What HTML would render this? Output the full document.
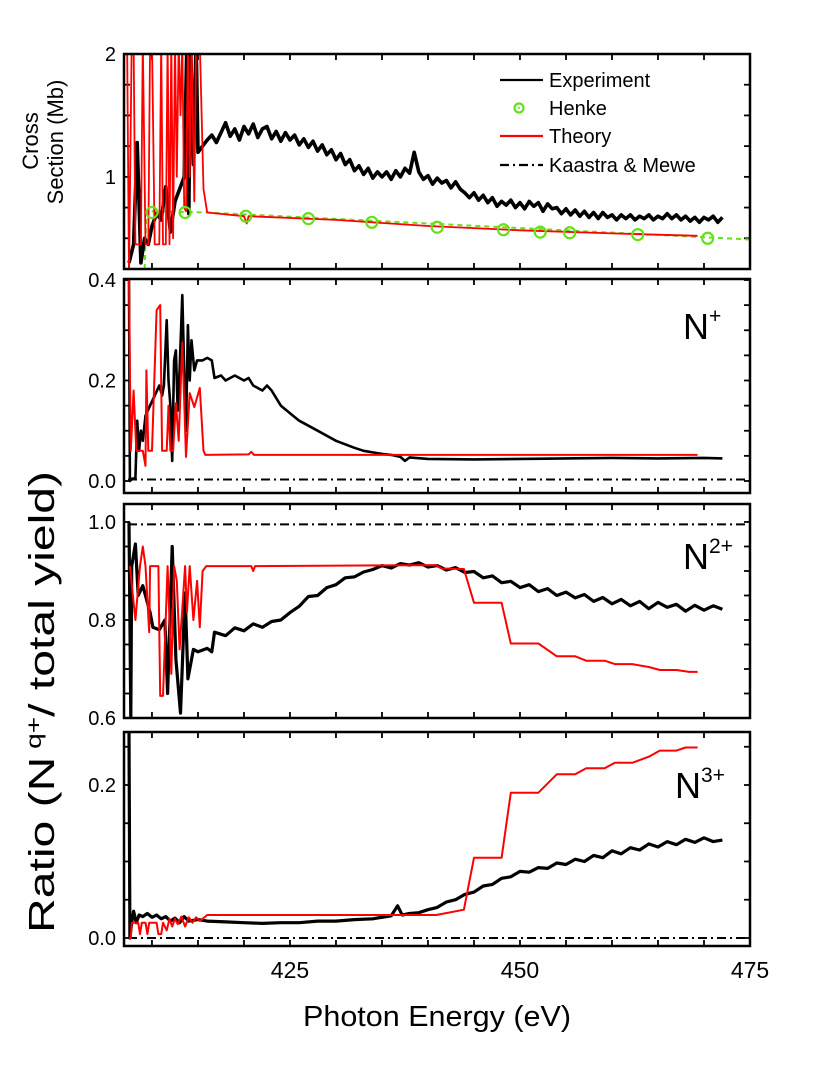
<!DOCTYPE html>
<html><head><meta charset="utf-8">
<style>
html,body{margin:0;padding:0;background:#fff;}
svg{display:block;font-family:"Liberation Sans",Arial,sans-serif;}
</style></head>
<body>
<svg id="chart" width="830" height="1075" viewBox="0 0 830 1075" xmlns="http://www.w3.org/2000/svg">
<defs>
<clipPath id="c1"><rect x="124" y="54" width="626" height="215"/></clipPath>
<clipPath id="c2"><rect x="124" y="279" width="626" height="214"/></clipPath>
<clipPath id="c3"><rect x="124" y="504" width="626" height="214"/></clipPath>
<clipPath id="c4"><rect x="124" y="732" width="626" height="214"/></clipPath>
</defs>
<g id="layer"></g>
<text transform="translate(38,141) rotate(-90)" text-anchor="middle" font-size="22">Cross</text>
<text transform="translate(63,142) rotate(-90)" text-anchor="middle" font-size="22">Section (Mb)</text>
<text transform="translate(54,702) rotate(-90)" text-anchor="middle" font-size="36" textLength="462" lengthAdjust="spacingAndGlyphs">Ratio (N<tspan dy="-13" font-size="21"> q+</tspan><tspan dy="13">/ total yield)</tspan></text>
<text x="437" y="1026" text-anchor="middle" font-size="29" textLength="268" lengthAdjust="spacingAndGlyphs">Photon Energy (eV)</text>
<text x="683" y="339" font-size="36">N<tspan dy="-16" font-size="21">+</tspan></text>
<text x="683" y="569" font-size="36">N<tspan dy="-16" font-size="21">2+</tspan></text>
<text x="675" y="798" font-size="36">N<tspan dy="-16" font-size="21">3+</tspan></text>
<g>
<line x1="500" y1="80" x2="543" y2="80" stroke="#000" stroke-width="2.2"/>
<text x="549" y="87" font-size="20">Experiment</text>
<circle cx="519" cy="108" r="4.5" fill="none" stroke="#66e01a" stroke-width="2.2"/>
<circle cx="519" cy="108" r="1" fill="#66e01a"/>
<text x="549" y="115" font-size="20">Henke</text>
<line x1="500" y1="136" x2="543" y2="136" stroke="#f00" stroke-width="2.2"/>
<text x="549" y="143" font-size="20">Theory</text>
<line x1="500" y1="165" x2="543" y2="165" stroke="#000" stroke-width="2.2" stroke-dasharray="9,4,2,4"/>
<text x="549" y="172" font-size="20">Kaastra &amp; Mewe</text>
</g>
</svg>
<script>
// ---------- data ----------
const xTicksMajor = [425, 450, 475];
const p1Ticks = [1, 2];
const p2Ticks = [0.0, 0.2, 0.4];
const p3Ticks = [0.6, 0.8, 1.0];
const p4Ticks = [0.0, 0.2];
const p1TickLabels = ["1", "2"];
const p2TickLabels = ["0.0", "0.2", "0.4"];
const p3TickLabels = ["0.6", "0.8", "1.0"];
const p4TickLabels = ["0.0", "0.2"];

// Panel 1: cross section
const p1ExpE = [407.5,408,408.4,408.8,409.2,409.6,410,410.5,411,411.5,412,412.5,413,413.5,413.8,414,414.2,414.5,414.8,415,415.5,416,416.5,417,417.5,418,418.5,419,419.5,420,420.5,421,421.5,422,422.5,423,423.5,424,424.5,425,425.5,426,426.5,427,427.5,428,428.5,429,429.5,430,430.5,431,431.5,432,432.5,433,433.5,434,434.5,435,435.5,436,436.5,437,437.5,438,438.5,439,439.5,440,440.5,441,441.5,442,442.5,443,443.5,444,444.5,445,445.5,446,446.5,447,447.5,448,448.5,449,449.5,450,450.5,451,451.5,452,452.5,453,453.5,454,454.5,455,455.5,456,456.5,457,457.5,458,458.5,459,459.5,460,460.5,461,461.5,462,462.5,463,463.5,464,464.5,465,465.5,466,466.5,467,467.5,468,468.5,469,469.5,470,470.5,471,471.5,472];
const p1ExpV = [0.3,0.45,1.28,0.3,0.5,0.45,0.6,0.7,0.65,0.92,0.55,0.8,0.9,1.0,2.1,0.7,2.1,1.1,2.1,1.2,1.25,1.3,1.34,1.28,1.36,1.44,1.33,1.39,1.30,1.41,1.35,1.43,1.32,1.39,1.41,1.31,1.37,1.29,1.36,1.30,1.34,1.26,1.31,1.24,1.29,1.21,1.26,1.18,1.22,1.14,1.19,1.10,1.14,1.05,1.09,1.02,1.07,0.99,1.04,1.00,1.04,0.98,1.05,1.00,1.07,1.03,1.20,1.04,0.98,1.01,0.94,0.99,0.95,0.97,0.91,0.96,0.90,0.87,0.83,0.87,0.81,0.85,0.79,0.83,0.76,0.80,0.77,0.81,0.75,0.79,0.74,0.80,0.76,0.79,0.72,0.78,0.74,0.75,0.70,0.74,0.69,0.73,0.68,0.72,0.67,0.71,0.66,0.71,0.67,0.69,0.65,0.69,0.66,0.69,0.65,0.68,0.66,0.69,0.65,0.68,0.66,0.70,0.66,0.69,0.65,0.68,0.64,0.67,0.63,0.67,0.65,0.68,0.63,0.67,0.65,0.69];
const p1ThE = [407.3,407.5,407.8,408.0,408.2,408.8,409.0,409.3,409.6,409.8,410.0,410.3,410.8,411.0,411.2,411.5,411.7,411.9,412.1,412.3,412.5,412.7,412.9,413.1,413.3,413.5,413.7,413.9,414.1,414.3,414.6,414.8,415.2,415.6,416.0,420,420.3,420.5,430,440,450,460,469.3];
const p1ThV = [2.1,0.2,2.1,2.1,0.45,0.45,2.1,0.45,0.45,2.1,2.1,0.45,0.45,2.1,0.45,0.45,2.1,0.45,2.1,0.5,2.1,1.0,2.1,1.5,2.1,0.75,0.72,2.1,1.0,2.1,0.8,2.1,2.1,0.9,0.71,0.68,0.62,0.68,0.65,0.6,0.565,0.54,0.52];
const henkeE = [410,413.6,420.2,427,433.9,441,448.2,452.2,455.4,462.8,470.4];
const henkeV = [0.71,0.71,0.68,0.66,0.63,0.59,0.57,0.55,0.545,0.53,0.50];
const henkeLineE = [409.2,409.4,410,416,475];
const henkeLineV = [0.25,0.72,0.72,0.71,0.49];

// Panel 2: N+
const p2ExpE = [407.5,407.6,407.9,408.2,408.4,408.6,408.8,409.0,409.3,409.8,410.3,410.8,411.1,411.3,411.6,411.8,412.0,412.2,412.4,412.6,412.8,413.0,413.3,413.5,413.7,413.9,414.1,414.3,414.6,414.9,415.5,416,416.5,416.8,417.5,418,419,420,420.5,421,422,422.5,423,423.5,424,425,426,427,428,429,430,431,432,433,434,435,436,437,437.5,438,440,445,450,455,460,465,470,472];
const p2ExpV = [0.4,0.0,0.005,0.005,0.12,0.06,0.1,0.08,0.13,0.15,0.17,0.19,0.17,0.19,0.32,0.2,0.15,0.04,0.24,0.26,0.14,0.22,0.37,0.22,0.1,0.31,0.2,0.28,0.22,0.24,0.24,0.245,0.24,0.205,0.21,0.2,0.21,0.2,0.205,0.19,0.18,0.19,0.18,0.165,0.15,0.135,0.12,0.11,0.1,0.09,0.08,0.073,0.066,0.06,0.057,0.054,0.052,0.048,0.04,0.047,0.044,0.043,0.044,0.045,0.046,0.045,0.046,0.045];
const p2ThE = [407.5,407.7,408.0,408.3,409,409.3,409.4,409.6,410.0,410.5,410.9,411.1,411.6,411.8,412.0,412.3,412.6,412.9,413.3,413.7,414.1,414.6,415.2,415.6,415.8,420.5,420.8,421.1,469.3];
const p2ThV = [0.4,0.06,0.18,0.06,0.06,0.03,0.22,0.06,0.06,0.34,0.35,0.06,0.06,0.15,0.06,0.06,0.155,0.08,0.275,0.048,0.175,0.147,0.185,0.06,0.052,0.053,0.058,0.052,0.052];

// Panel 3: N2+
const p3ExpE = [407.5,407.7,407.8,408.2,408.5,409.0,409.8,410.1,410.8,411.4,411.7,412.2,412.6,413.1,413.6,413.9,414.5,415,416,416.5,416.8,418,419,420,421,422,423,424,425,426,427,428,429,430,431,432,433,434,435,436,437,438,439,440,441,442,443,444,445,446,447,448,449,450,451,452,453,454,455,456,457,458,459,460,461,462,463,464,465,466,467,468,469,470,471,472];
const p3ExpV = [1.0,0.6,0.91,0.955,0.85,0.87,0.815,0.785,0.78,0.8,0.65,0.95,0.72,0.61,0.855,0.68,0.74,0.735,0.742,0.735,0.775,0.768,0.784,0.778,0.792,0.785,0.797,0.8,0.815,0.828,0.848,0.85,0.866,0.872,0.886,0.888,0.898,0.903,0.911,0.906,0.915,0.912,0.917,0.908,0.911,0.902,0.907,0.897,0.899,0.886,0.89,0.876,0.879,0.866,0.872,0.858,0.864,0.85,0.857,0.845,0.852,0.838,0.846,0.833,0.842,0.829,0.838,0.823,0.836,0.826,0.832,0.818,0.83,0.82,0.829,0.822];
const p3ThE = [407.6,408.2,408.7,409.0,409.3,409.7,409.8,410.7,410.9,411.2,411.7,412.1,412.4,412.7,413.0,413.6,413.8,414.1,414.5,414.9,415.2,415.5,415.9,420.8,421,421.2,440.9,441.5,443.9,445,448,449,452,454,456,457.2,459.2,460.3,462.2,464,465.2,467,468.4,469.3];
const p3ThV = [0.91,0.8,0.91,0.95,0.91,0.775,0.91,0.91,0.645,0.645,0.91,0.69,0.91,0.88,0.74,0.91,0.815,0.91,0.8,0.88,0.785,0.9,0.91,0.91,0.9,0.91,0.912,0.905,0.904,0.835,0.835,0.752,0.752,0.726,0.726,0.717,0.717,0.71,0.71,0.704,0.698,0.698,0.694,0.694];

// Panel 4: N3+
const p4ExpE = [407.5,407.6,407.8,408.0,408.3,408.6,409,409.5,410,410.5,411,411.5,412,412.5,413,413.5,414,415,416,418,420,422,424,426,428,430,432,434,436,436.7,437.2,438,439,440,441,442,443,444,445,446,447,448,449,450,451,452,453,454,455,456,457,458,459,460,461,462,463,464,465,466,467,468,469,470,471,472];
const p4ExpV = [0.27,0.0,0.02,0.035,0.02,0.03,0.028,0.032,0.027,0.03,0.025,0.028,0.022,0.026,0.02,0.028,0.022,0.024,0.022,0.021,0.02,0.019,0.02,0.02,0.022,0.022,0.024,0.025,0.029,0.042,0.03,0.032,0.033,0.037,0.04,0.047,0.05,0.057,0.06,0.068,0.07,0.078,0.08,0.087,0.086,0.092,0.091,0.098,0.096,0.103,0.1,0.108,0.105,0.114,0.11,0.118,0.115,0.123,0.119,0.126,0.122,0.129,0.125,0.131,0.126,0.128];
const p4ThE = [407.5,407.7,407.8,408.5,408.7,408.9,409.3,409.5,409.7,410.5,410.7,411,411.2,411.6,411.9,412.2,412.5,412.8,413.2,413.6,414,414.4,414.8,415.2,416,440.9,443.9,445,448,449,452,454,456,457.2,459.2,460.3,462.2,464,465.2,467,468,469.3];
const p4ThV = [0,0,0.02,0.02,0.005,0.02,0.02,0.005,0.02,0.02,0.005,0.005,0.02,0.01,0.025,0.015,0.025,0.018,0.028,0.015,0.027,0.02,0.027,0.022,0.03,0.03,0.037,0.105,0.105,0.19,0.19,0.214,0.214,0.222,0.222,0.229,0.229,0.237,0.245,0.245,0.249,0.249];

// Kaastra & Mewe levels
const kmLevels = [null, 0.003, 0.995, 0.0];

// ---------- drawing ----------
const NS = "http://www.w3.org/2000/svg";
const layer = document.getElementById('layer');
const X0 = 124, X1 = 750, E0 = 406.96, E1 = 475;
function xs(e){ return X0 + (e - E0) / (E1 - E0) * (X1 - X0); }
const panels = [
  {top:54, bot:269, ymin:0.25, ymax:2, step:0.25, ticks:p1Ticks, labels:p1TickLabels, clip:'c1', name:'cross-section'},
  {top:279, bot:493, ymin:-0.0239, ymax:0.402, step:0.05, ticks:p2Ticks, labels:p2TickLabels, clip:'c2', name:'n-plus'},
  {top:504, bot:718, ymin:0.6, ymax:1.0367, step:0.05, ticks:p3Ticks, labels:p3TickLabels, clip:'c3', name:'n-2plus'},
  {top:732, bot:946, ymin:-0.0105, ymax:0.2693, step:0.05, ticks:p4Ticks, labels:p4TickLabels, clip:'c4', name:'n-3plus'}
];
function ys(p, v){ return p.bot - (v - p.ymin) / (p.ymax - p.ymin) * (p.bot - p.top); }
function mk(tag, attrs, parent){
  const el = document.createElementNS(NS, tag);
  for (const k in attrs) el.setAttribute(k, attrs[k]);
  (parent || layer).appendChild(el);
  return el;
}
function series(p, E, V, color, w, name, dash){
  let d = '';
  for (let i = 0; i < E.length; i++) d += (i ? 'L' : 'M') + xs(E[i]).toFixed(1) + ',' + ys(p, V[i]).toFixed(1);
  const el = mk('path', {d:d, fill:'none', stroke:color, 'stroke-width':w, 'stroke-linejoin':'round', 'clip-path':'url(#' + p.clip + ')'});
  if (dash) el.setAttribute('stroke-dasharray', dash);
  
  
  return el;
}

panels.forEach(function(p, pi){
  const g = mk('g', {});
  
  
  for (let e = 410; e <= 475; e += 5) {
    const x = xs(e);
    const t1 = mk('line', {x1:x, x2:x, y1:p.bot, y2:p.bot - 6, stroke:'#000', 'stroke-width':1.8}, g);
    
    
    const t2 = mk('line', {x1:x, x2:x, y1:p.top, y2:p.top + 6, stroke:'#000', 'stroke-width':1.8}, g);
    
    
  }
  const start = Math.ceil(p.ymin / p.step - 1e-6) * p.step;
  for (let v = start; v <= p.ymax + 1e-9; v += p.step) {
    const y = ys(p, v);
    const t1 = mk('line', {x1:X0, x2:X0 + 6, y1:y, y2:y, stroke:'#000', 'stroke-width':1.8}, g);
    
    
    const t2 = mk('line', {x1:X1, x2:X1 - 6, y1:y, y2:y, stroke:'#000', 'stroke-width':1.8}, g);
    
    
  }
  p.ticks.forEach(function(v, i){
    const t = mk('text', {x:X0 - 8, y:ys(p, v) + 7, 'text-anchor':'end', 'font-size':20}, g);
    t.textContent = p.labels[i];
    
    
  });
  if (kmLevels[pi] !== null) {
    const y = ys(p, kmLevels[pi]);
    const km = mk('line', {x1:X0 + 4, x2:X1 - 2, y1:y, y2:y, stroke:'#000', 'stroke-width':2, 'stroke-dasharray':'9,4,2,4'}, g);
    
    
  }
});

const pp = panels;
series(pp[0], henkeLineE, henkeLineV, '#66e01a', 2, 'henke-dashed-line', '5,4');
series(pp[0], p1ExpE, p1ExpV, '#000', 3.6, 'experiment-cross-section');
series(pp[0], p1ThE, p1ThV, '#f00', 1.8, 'theory-cross-section');
henkeE.forEach(function(e, i){
  const c = mk('circle', {cx:xs(e), cy:ys(pp[0], henkeV[i]), r:5.5, fill:'none', stroke:'#66e01a', 'stroke-width':2.2});
  
  
});
series(pp[1], p2ExpE, p2ExpV, '#000', 2.6, 'experiment-n-plus');
series(pp[1], p2ThE, p2ThV, '#f00', 2, 'theory-n-plus');
series(pp[2], p3ExpE, p3ExpV, '#000', 3.2, 'experiment-n-2plus');
series(pp[2], p3ThE, p3ThV, '#f00', 2, 'theory-n-2plus');
series(pp[3], p4ExpE, p4ExpV, '#000', 3.2, 'experiment-n-3plus');
series(pp[3], p4ThE, p4ThV, '#f00', 2, 'theory-n-3plus');

panels.forEach(function(p){
  const r = mk('rect', {x:X0, y:p.top, width:X1 - X0, height:p.bot - p.top, fill:'none', stroke:'#000', 'stroke-width':2.5});
  
  
});
xTicksMajor.forEach(function(e){
  const t = mk('text', {x:xs(e), y:978, 'text-anchor':'middle', 'font-size':23});
  t.textContent = String(e);
  
  
});
</script>
</body></html>
